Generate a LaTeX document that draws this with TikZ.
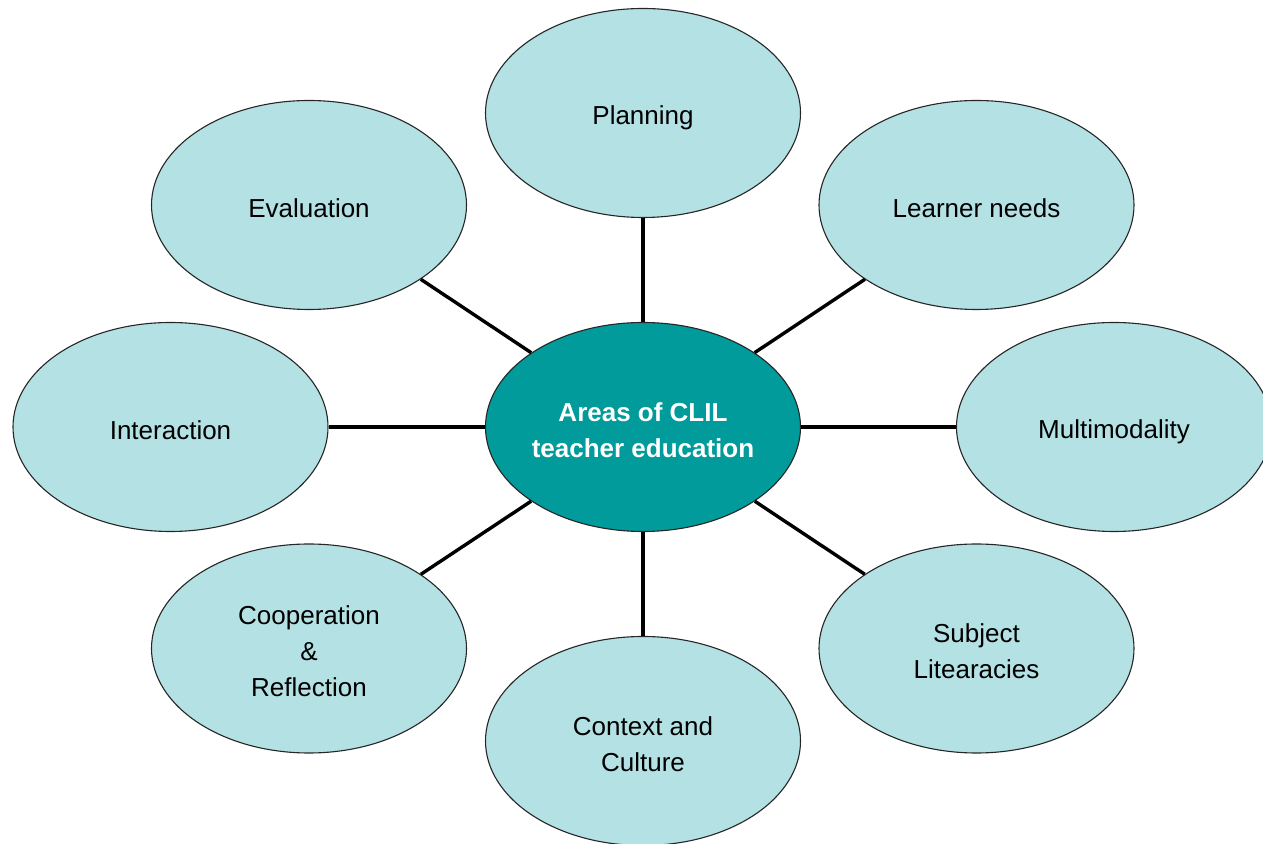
\documentclass[tikz,border=0pt]{standalone}
\usepackage{fontspec}
\setmainfont{Liberation Sans}
\usetikzlibrary{shapes.geometric}
\definecolor{lightteal}{HTML}{B4E1E4}
\definecolor{darkteal}{HTML}{009B9A}
\tikzset{
  outer/.style={ellipse, draw=black!85, line width=1.1pt, fill=lightteal,
    minimum width=315pt, minimum height=209pt, inner sep=0pt},
  hub/.style={outer, fill=darkteal},
  lbl/.style={align=center, inner sep=0pt, yshift=-3pt,
    font=\fontsize{26}{36}\selectfont},
  hublbl/.style={lbl, text=white, font=\fontsize{26}{36}\selectfont\bfseries},
  spoke/.style={line width=3.4pt, black}
}
\begin{document}
\begin{tikzpicture}[x=1pt,y=1pt]
\useasboundingbox (0,0) rectangle (1263,843);
\clip (0,0) rectangle (1263,843);
\node[hub, label={[hublbl]center:Areas of CLIL\\teacher education}] (c) at (643,416) {};
\node[outer, label={[lbl, yshift=-2pt]center:Planning}] (plan) at (643,730) {};
\node[outer, label={[lbl]center:Learner needs}] (learn) at (976.5,638) {};
\node[outer, label={[lbl, yshift=-2pt]center:Multimodality}] (multi) at (1114,416) {};
\node[outer, label={[lbl]center:Subject\\Litearacies}] (subj) at (976.5,194.5) {};
\node[outer, label={[lbl]center:Context and\\Culture}] (ctx) at (643,102) {};
\node[outer, label={[lbl]center:Cooperation\\\&\\Reflection}] (coop) at (309,194.5) {};
\node[outer, label={[lbl]center:Interaction}] (inter) at (170.5,416) {};
\node[outer, label={[lbl]center:Evaluation}] (eval) at (309,638) {};
\foreach \n in {plan,learn,multi,subj,ctx,coop,inter,eval}
  \draw[spoke] (c) -- (\n);
\end{tikzpicture}
\end{document}
